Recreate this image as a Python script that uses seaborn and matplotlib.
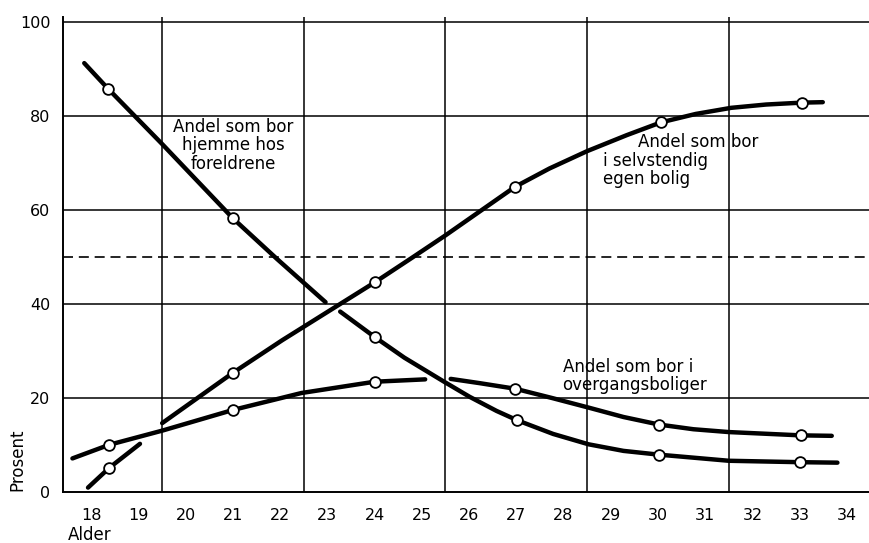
import matplotlib
matplotlib.use("Agg")
import matplotlib.pyplot as plt
import seaborn as sns
import pandas as pd

# ---------------- data ----------------
ages_ticks = list(range(18, 35))
y_ticks = [0, 20, 40, 60, 80, 100]
grid_x = [19.5, 22.5, 25.5, 28.5, 31.5]

# "hjemme hos foreldrene" – drawn in two pieces (break near 23)
hjemme_a_x = [17.85, 18.35, 19.5, 21.0, 21.93, 22.96]
hjemme_a_y = [91.2, 85.8, 74.0, 58.2, 49.6, 40.4]
hjemme_b_x = [23.27, 24.0, 24.63, 25.47, 26.01, 26.58, 27.02, 27.78, 28.53, 29.27, 30.02, 31.5, 33.0, 33.8]
hjemme_b_y = [38.4, 33.0, 28.6, 23.5, 20.3, 17.3, 15.3, 12.4, 10.2, 8.8, 8.0, 6.7, 6.4, 6.3]
hjemme_pt_x = [18.35, 21, 24, 27.02, 30.02, 33]
hjemme_pt_y = [85.8, 58.2, 33.0, 15.3, 8.0, 6.4]

# "selvstendig egen bolig"
selv_a_x = [17.93, 18.38, 19.03]
selv_a_y = [1.0, 5.2, 10.3]
selv_b_x = [19.5, 21.0, 22.04, 24.0, 24.8, 25.5, 26.97, 27.7, 28.5, 29.34, 30.06, 30.8, 31.55, 32.29, 33.04, 33.49]
selv_b_y = [14.7, 25.4, 32.3, 44.6, 49.9, 54.6, 64.9, 68.8, 72.5, 75.9, 78.6, 80.4, 81.7, 82.4, 82.8, 82.9]
selv_pt_x = [18.38, 21, 24, 26.97, 30.06, 33.04]
selv_pt_y = [5.2, 25.4, 44.6, 64.9, 78.6, 82.8]

# "overgangsboliger"
overg_a_x = [17.6, 18.38, 19.5, 21.0, 22.45, 24.0, 25.07]
overg_a_y = [7.2, 10.1, 13.1, 17.5, 21.1, 23.5, 24.0]
overg_b_x = [25.61, 26.22, 26.98, 27.77, 28.53, 29.27, 30.02, 30.75, 31.5, 33.02, 33.68]
overg_b_y = [24.1, 23.2, 22.0, 20.0, 18.0, 16.0, 14.4, 13.4, 12.8, 12.1, 12.0]
overg_pt_x = [18.38, 21, 24, 26.98, 30.02, 33.02]
overg_pt_y = [10.1, 17.5, 23.5, 22.0, 14.4, 12.1]

reference_level = 50

# ---------------- build tables ----------------
segs = [
    ("hjemme_a", hjemme_a_x, hjemme_a_y),
    ("hjemme_b", hjemme_b_x, hjemme_b_y),
    ("selv_a", selv_a_x, selv_a_y),
    ("selv_b", selv_b_x, selv_b_y),
    ("overg_a", overg_a_x, overg_a_y),
    ("overg_b", overg_b_x, overg_b_y),
]
lines_df = pd.concat(
    [pd.DataFrame({"seg": n, "alder": x, "prosent": y}) for n, x, y in segs],
    ignore_index=True,
)
pts_df = pd.concat(
    [
        pd.DataFrame({"serie": "hjemme", "alder": hjemme_pt_x, "prosent": hjemme_pt_y}),
        pd.DataFrame({"serie": "selv", "alder": selv_pt_x, "prosent": selv_pt_y}),
        pd.DataFrame({"serie": "overg", "alder": overg_pt_x, "prosent": overg_pt_y}),
    ],
    ignore_index=True,
)

# ---------------- plot ----------------
sns.set_style("white")
plt.rcParams["font.family"] = ["DejaVu Sans"]
plt.rcParams["text.color"] = "black"

W, H = 870, 543
fig = plt.figure(figsize=(W / 100, H / 100), dpi=100)
left_px, right_px, top_px, bottom_px = 63, 870, 17, 492.3
ax = fig.add_axes([left_px / W, 1 - bottom_px / H, (right_px - left_px) / W, (bottom_px - top_px) / H])

# grid
for gx in grid_x:
    ax.axvline(gx, color="black", lw=1.1, zorder=1)
for gy in y_ticks[1:]:
    ax.axhline(gy, color="black", lw=1.1, zorder=1)
ax.axhline(reference_level, color="black", lw=1.2, dashes=(6, 3.5), zorder=1)

sns.lineplot(
    data=lines_df, x="alder", y="prosent", units="seg", estimator=None,
    sort=False, color="black", lw=3.2, ax=ax, zorder=3, legend=False,
)
sns.scatterplot(
    data=pts_df, x="alder", y="prosent", ax=ax, marker="o", s=60,
    facecolor="white", edgecolor="black", linewidth=1.3, zorder=5, legend=False,
)

ax.set_xlim(17.40, 34.49)
ax.set_ylim(0, 101)
ax.set_xticks(ages_ticks)
ax.set_xticks(grid_x, minor=True)
ax.set_yticks(y_ticks)
ax.tick_params(axis="both", which="both", direction="out", length=6, width=1.1,
               color="black", labelsize=11.5, labelcolor="black", pad=3)
ax.tick_params(axis="x", which="major", pad=5)
for s in ["top", "right"]:
    ax.spines[s].set_visible(False)
for s in ["left", "bottom"]:
    ax.spines[s].set_color("black")
    ax.spines[s].set_linewidth(1.4)
ax.set_xlabel("")
ax.set_ylabel("")

fs = 12
fig.text(17 / W, 1 - 460 / H, "Prosent", rotation=90, ha="center", va="center", fontsize=fs)
fig.text(90 / W, 1 - 535 / H, "Alder", ha="center", va="center", fontsize=fs)

ax.text(21.0, 79.6, "Andel som bor\nhjemme hos\nforeldrene", ha="center", va="top",
        fontsize=fs, linespacing=1.05, zorder=6)
ax.text(29.58, 76.3, "Andel som bor", ha="left", va="top", fontsize=fs, zorder=6)
ax.text(28.84, 72.3, "i selvstendig\negen bolig", ha="left", va="top", fontsize=fs,
        linespacing=1.0, zorder=6)
ax.text(27.98, 28.6, "Andel som bor i\novergangsboliger", ha="left", va="top",
        fontsize=fs, linespacing=1.0, zorder=6)

fig.savefig("out.png", dpi=100)
